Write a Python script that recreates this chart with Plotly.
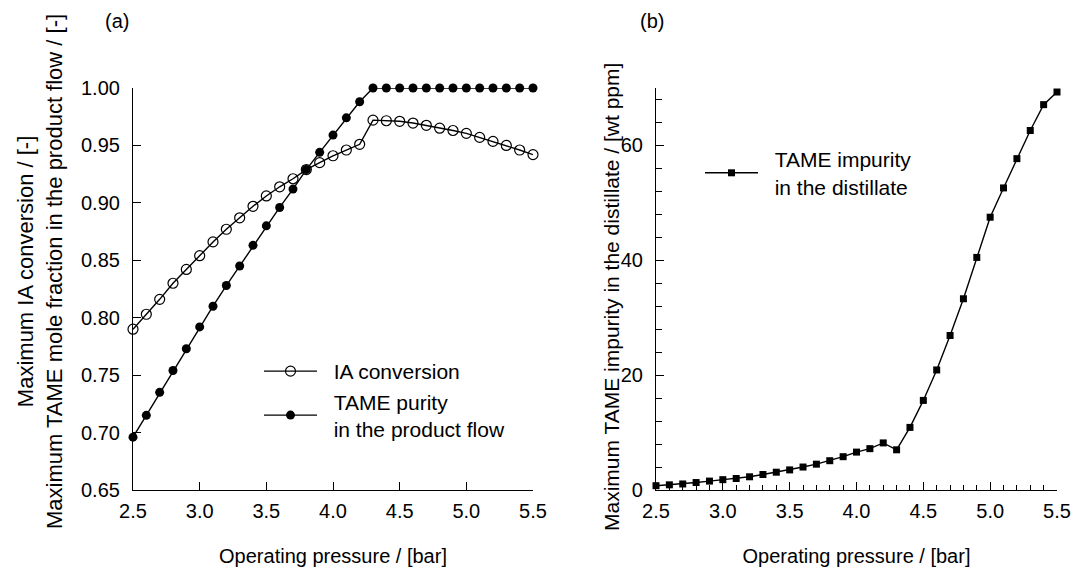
import plotly.graph_objects as go

# ---------------- data ----------------
pressure = [2.5, 2.6, 2.7, 2.8, 2.9, 3.0, 3.1, 3.2, 3.3, 3.4, 3.5, 3.6, 3.7, 3.8, 3.9, 4.0,
            4.1, 4.2, 4.3, 4.4, 4.5, 4.6, 4.7, 4.8, 4.9, 5.0, 5.1, 5.2, 5.3, 5.4, 5.5]

ia_conversion = [0.790, 0.803, 0.816, 0.830, 0.842, 0.854, 0.866, 0.877, 0.887, 0.897,
                 0.906, 0.914, 0.921, 0.929, 0.935, 0.941, 0.946, 0.951,
                 0.972, 0.9715, 0.971, 0.9695, 0.9675, 0.965, 0.963, 0.9605, 0.957,
                 0.9535, 0.950, 0.946, 0.942]

tame_purity = [0.696, 0.715, 0.735, 0.754, 0.773, 0.792, 0.810, 0.828, 0.845, 0.863,
               0.880, 0.896, 0.912, 0.929, 0.944, 0.959, 0.974, 0.988,
               1.000, 1.000, 1.000, 1.000, 1.000, 1.000, 1.000, 1.000, 1.000,
               1.000, 1.000, 1.000, 1.000]

tame_impurity = [0.75, 0.9, 1.05, 1.3, 1.55, 1.8, 2.0, 2.3, 2.7, 3.1, 3.5, 4.0, 4.5, 5.1,
                 5.8, 6.6, 7.2, 8.2, 7.0, 10.9, 15.6, 20.9, 26.9, 33.3, 40.5, 47.5,
                 52.6, 57.7, 62.6, 67.1, 69.3]

x_ticks = [2.5, 3.0, 3.5, 4.0, 4.5, 5.0, 5.5]
ya_ticks = [0.65, 0.70, 0.75, 0.80, 0.85, 0.90, 0.95, 1.00]
yb_ticks = [0, 20, 40, 60]

W, H = 1074, 571
FONT = "Liberation Sans, Arial, Helvetica, sans-serif"
PAD = "\u00a0\u00a0"


def px_x(p):
    return p / W


def px_y(p):
    return (H - p) / H


fig = go.Figure()

fig.add_trace(go.Scatter(
    x=pressure, y=ia_conversion, mode="lines+markers", name=PAD + "IA conversion",
    line=dict(color="black", width=1.4),
    marker=dict(symbol="circle-open", size=10, color="black", line=dict(width=1.2)),
    xaxis="x", yaxis="y", legend="legend", cliponaxis=False))

fig.add_trace(go.Scatter(
    x=pressure, y=tame_purity, mode="lines+markers",
    name=PAD + "TAME purity<br>" + PAD + "in the product flow",
    line=dict(color="black", width=1.4),
    marker=dict(symbol="circle", size=9, color="black"),
    xaxis="x", yaxis="y", legend="legend", cliponaxis=False))

fig.add_trace(go.Scatter(
    x=pressure, y=tame_impurity, mode="lines+markers",
    name=PAD + "TAME impurity<br>" + PAD + "in the distillate",
    line=dict(color="black", width=1.4),
    marker=dict(symbol="square", size=7, color="black"),
    xaxis="x2", yaxis="y2", legend="legend2", cliponaxis=False))

axis_common = dict(
    showline=True, linecolor="black", linewidth=1.2, mirror=False, automargin=False,
    showgrid=False, zeroline=False, ticks="inside", ticklen=8, tickwidth=1.1,
    tickcolor="black", tickfont=dict(family=FONT, size=20, color="black"),
)

fig.update_layout(
    width=W, height=H,
    margin=dict(l=0, r=0, t=0, b=0, autoexpand=False),
    paper_bgcolor="white", plot_bgcolor="white",
    font=dict(family=FONT, color="black"),
    xaxis=dict(domain=[px_x(133), px_x(533)], range=[2.5, 5.5], anchor="y",
               tickvals=x_ticks, tickformat=".1f", ticklabelstandoff=3,
               title=dict(text="Operating pressure / [bar]",
                          font=dict(family=FONT, size=20), standoff=27),
               **axis_common),
    yaxis=dict(domain=[px_y(490), px_y(88)], range=[0.65, 1.00], anchor="x",
               tickvals=ya_ticks, tickformat=".2f", ticklabelstandoff=8, **axis_common),
    xaxis2=dict(domain=[px_x(656), px_x(1057)], range=[2.5, 5.5], anchor="y2",
                tickvals=x_ticks, tickformat=".1f", ticklabelstandoff=3,
                minor=dict(ticks="inside", ticklen=5, dtick=0.1, tickcolor="black"),
                title=dict(text="Operating pressure / [bar]",
                           font=dict(family=FONT, size=20), standoff=27),
                **axis_common),
    yaxis2=dict(domain=[px_y(490), px_y(88)], range=[0, 70], anchor="x2",
                tickvals=yb_ticks, ticklabelstandoff=8,
                minor=dict(ticks="inside", ticklen=6, dtick=4, tickcolor="black"),
                **axis_common),
    legend=dict(x=px_x(259), y=px_y(351), xanchor="left", yanchor="top",
                bgcolor="rgba(0,0,0,0)", font=dict(family=FONT, size=21),
                itemwidth=53, tracegroupgap=0),
    legend2=dict(x=px_x(700), y=px_y(139), xanchor="left", yanchor="top",
                 bgcolor="rgba(0,0,0,0)", font=dict(family=FONT, size=21),
                 itemwidth=53),
    showlegend=True,
)

annotations = [
    dict(text="(a)", x=px_x(117), y=px_y(21), xref="paper", yref="paper",
         xanchor="center", yanchor="middle",
         showarrow=False, font=dict(family=FONT, size=20)),
    dict(text="(b)", x=px_x(652), y=px_y(21), xref="paper", yref="paper",
         xanchor="center", yanchor="middle",
         showarrow=False, font=dict(family=FONT, size=20)),
    dict(text="Maximum IA conversion / [-]<br>Maximum TAME mole fraction in the product flow / [-]",
         x=px_x(40), y=px_y(272), xref="paper", yref="paper", xanchor="center",
         yanchor="middle", textangle=-90, align="center", showarrow=False,
         font=dict(family=FONT, size=22)),
    dict(text="Maximum TAME impurity in the distillate / [wt ppm]",
         x=px_x(612), y=px_y(297), xref="paper", yref="paper", xanchor="center",
         yanchor="middle", textangle=-90, showarrow=False, font=dict(family=FONT, size=21)),
]
fig.update_layout(annotations=annotations)

fig.write_html("out.html")
